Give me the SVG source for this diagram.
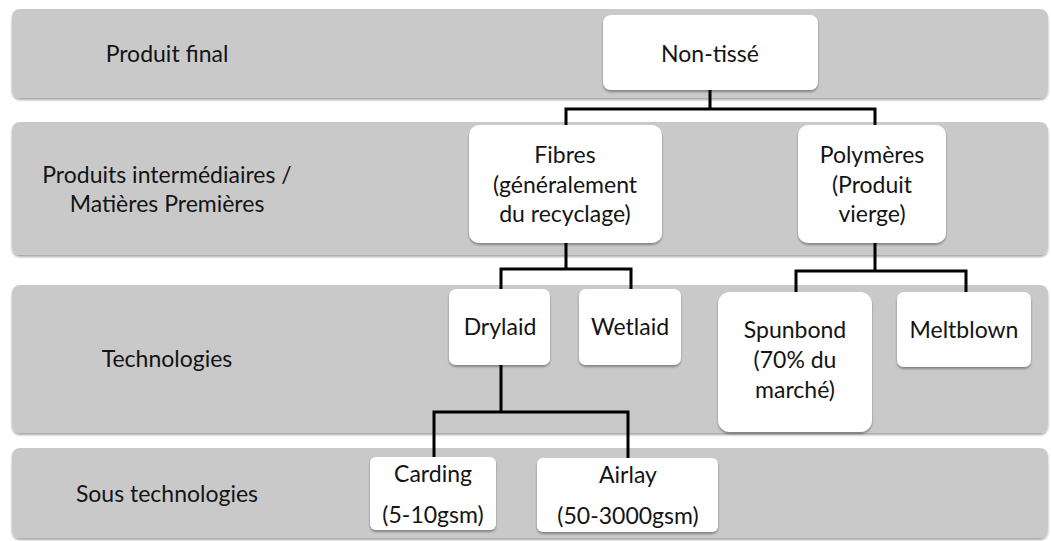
<svg xmlns="http://www.w3.org/2000/svg" width="1051" height="541" viewBox="0 0 1051 541">
  <defs>
    <filter id="sh" x="-10%" y="-10%" width="120%" height="130%">
      <feDropShadow dx="0" dy="2" stdDeviation="1.2" flood-color="#000" flood-opacity="0.35"/>
    </filter>
    <style>
      .band { fill: #c9c9c9; }
      .node { fill: #ffffff; filter: url(#sh); }
      .t { font-family: Lato, "Open Sans", "DejaVu Sans", sans-serif; font-size: 23px; fill: #141414; text-anchor: middle; }
      .conn { fill: none; stroke: #000; stroke-width: 3; stroke-linejoin: miter; }
    </style>
  </defs>
  <rect width="1051" height="541" fill="#ffffff"/>

  <g id="bands">
    <rect class="band" x="12" y="9" width="1036" height="89" rx="8" filter="url(#sh)"/>
    <rect class="band" x="12" y="122" width="1036" height="133" rx="8" filter="url(#sh)"/>
    <rect class="band" x="12" y="285" width="1036" height="148" rx="8" filter="url(#sh)"/>
    <rect class="band" x="12" y="448" width="1036" height="90" rx="8" filter="url(#sh)"/>
  </g>

  <g id="row-labels">
    <text class="t" x="167" y="62">Produit final</text>
    <text class="t" x="167" y="183">Produits intermédiaires /</text>
    <text class="t" x="167" y="212">Matières Premières</text>
    <text class="t" x="167" y="367">Technologies</text>
    <text class="t" x="167" y="502">Sous technologies</text>
  </g>

  <g id="connectors">
    <path class="conn" d="M710 90 V109 M566 125 V109 H875 V125"/>
    <path class="conn" d="M566 243 V269 M501 289 V269 H631 V289"/>
    <path class="conn" d="M875 243 V271 M796 292 V271 H966 V292"/>
    <path class="conn" d="M501 365 V412 M434 457 V412 H628 V458"/>
  </g>

  <g id="node-nontisse">
    <rect class="node" x="603" y="15" width="215" height="75" rx="8"/>
    <text class="t" x="710" y="62">Non-tissé</text>
  </g>
  <g id="node-fibres">
    <rect class="node" x="469" y="125" width="193" height="118" rx="10"/>
    <text class="t" x="565" y="163">Fibres</text>
    <text class="t" x="565" y="193">(généralement</text>
    <text class="t" x="565" y="222">du recyclage)</text>
  </g>
  <g id="node-polymeres">
    <rect class="node" x="798" y="125" width="148" height="118" rx="10"/>
    <text class="t" x="872" y="163">Polymères</text>
    <text class="t" x="872" y="193">(Produit</text>
    <text class="t" x="872" y="222">vierge)</text>
  </g>
  <g id="node-drylaid">
    <rect class="node" x="449" y="289" width="101" height="76" rx="7"/>
    <text class="t" x="500" y="335">Drylaid</text>
  </g>
  <g id="node-wetlaid">
    <rect class="node" x="579" y="289" width="102" height="76" rx="7"/>
    <text class="t" x="630" y="335">Wetlaid</text>
  </g>
  <g id="node-spunbond">
    <rect class="node" x="718" y="292" width="154" height="140" rx="12"/>
    <text class="t" x="795" y="338">Spunbond</text>
    <text class="t" x="795" y="368">(70% du</text>
    <text class="t" x="795" y="398">marché)</text>
  </g>
  <g id="node-meltblown">
    <rect class="node" x="897" y="292" width="134" height="75" rx="7"/>
    <text class="t" x="964" y="338">Meltblown</text>
  </g>
  <g id="node-carding">
    <rect class="node" x="370" y="457" width="126" height="73" rx="6"/>
    <text class="t" x="433" y="482">Carding</text>
    <text class="t" x="433" y="523">(5-10gsm)</text>
  </g>
  <g id="node-airlay">
    <rect class="node" x="537" y="458" width="181" height="74" rx="6"/>
    <text class="t" x="628" y="483">Airlay</text>
    <text class="t" x="628" y="524">(50-3000gsm)</text>
  </g>
</svg>
